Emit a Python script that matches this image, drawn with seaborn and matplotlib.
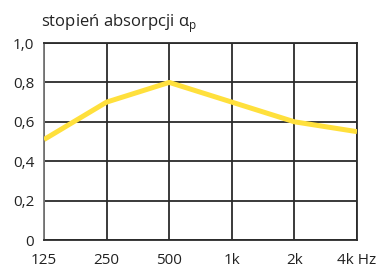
import matplotlib
matplotlib.use("Agg")
import matplotlib.pyplot as plt
import seaborn as sns
import pandas as pd

freqs = ["125", "250", "500", "1k", "2k", "4k Hz"]
alpha = [0.51, 0.70, 0.80, 0.70, 0.60, 0.55]
yticks = [0, 0.2, 0.4, 0.6, 0.8, 1.0]
ylabels = ["0", "0,2", "0,4", "0,6", "0,8", "1,0"]

sns.set_style("white")
plt.rcParams["font.family"] = ["Open Sans", "DejaVu Sans"]

df = pd.DataFrame({"pos": range(len(freqs)), "alpha": alpha})

fig = plt.figure(figsize=(3.78, 2.68), dpi=100)
ax = fig.add_axes([44/378, 28/268, (357-44)/378, (240-43)/268])
sns.lineplot(data=df, x="pos", y="alpha", ax=ax, color="#FFE03C", linewidth=3.6,
             solid_capstyle="butt", zorder=3)
ax.set_xlim(0, len(freqs)-1)
ax.set_ylim(0, 1.0)
ax.set_xticks(range(len(freqs)))
ax.set_xticklabels(freqs)
ax.set_yticks(yticks)
ax.set_yticklabels(ylabels)
ax.grid(True, color="#2b2b2b", linewidth=1.3)
for s in ax.spines.values():
    s.set_color("#2b2b2b")
    s.set_linewidth(1.3)
ax.spines["left"].set_color("#777777")
ax.tick_params(length=0, labelsize=11, colors="#222222")
ax.tick_params(axis="x", pad=9)
ax.tick_params(axis="y", pad=7)
ax.set_xlabel("")
ax.set_ylabel("")
fig.text(41/378, 1 - 27/268, "stopień absorpcji α$_\\mathregular{p}$", ha="left", va="baseline",
         fontsize=12, color="#222222")
fig.savefig("out.png", dpi=100)
